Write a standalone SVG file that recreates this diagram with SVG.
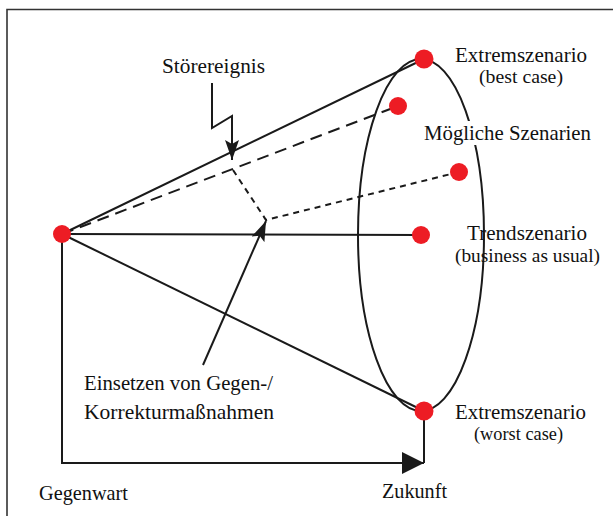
<svg xmlns="http://www.w3.org/2000/svg" width="613" height="516" viewBox="0 0 613 516">
<style>
.ln{stroke:#1a1a1a;stroke-width:2;fill:none}
.ld{stroke:#1a1a1a;stroke-width:2;fill:none;stroke-dasharray:12 7}
.sd{stroke:#1a1a1a;stroke-width:2;fill:none;stroke-dasharray:6 5}
.dot{fill:#ed1c24}
.t{font-family:"Liberation Serif","Times New Roman",serif;font-size:21px;fill:#111}
.s{font-family:"Liberation Serif","Times New Roman",serif;font-size:18.5px;fill:#111}
</style>
<defs>
<marker id="ah" markerUnits="userSpaceOnUse" markerWidth="20" markerHeight="14" refX="20" refY="7" orient="auto">
<path d="M0,0 L20,7 L0,14 L4,7 z" fill="#1a1a1a"/>
</marker>
<marker id="ahb" markerUnits="userSpaceOnUse" markerWidth="22" markerHeight="22" refX="22" refY="11" orient="auto">
<path d="M0,0 L22,11 L0,22 z" fill="#1a1a1a"/>
</marker>
</defs>
<rect width="613" height="516" fill="#fff"/>
<path d="M7,516 V9.5 H613" fill="none" stroke="#333" stroke-width="1.6"/>
<g id="connectors">
<ellipse cx="421" cy="235" rx="63" ry="176" class="ln"/>
<line x1="62" y1="234" x2="424" y2="59" class="ln"/>
<line x1="62" y1="234" x2="424" y2="411" class="ln"/>
<line x1="62" y1="234" x2="421" y2="235" class="ln"/>
<line x1="62" y1="234" x2="398" y2="106" class="ld"/>
<polyline points="233,170 266,220 459,172" class="sd"/>
<line x1="203" y1="365" x2="266" y2="221" class="ln" marker-end="url(#ah)"/>
<polyline points="212,83 212,128 232,116 232,160" class="ln" marker-end="url(#ah)"/>
<polyline points="62,234 62,463 424,463" class="ln" marker-end="url(#ahb)"/>
<line x1="424" y1="411" x2="424" y2="463" class="ln"/>
</g>
<g id="gegenwart"><circle cx="62" cy="234" r="9" class="dot"/><text x="39" y="500" class="t" textLength="89" lengthAdjust="spacingAndGlyphs">Gegenwart</text></g>
<g id="best-case"><circle cx="424" cy="59" r="9.5" class="dot"/><text x="455" y="62" class="t" textLength="132" lengthAdjust="spacingAndGlyphs">Extremszenario</text><text x="479" y="83" class="s" textLength="84" lengthAdjust="spacingAndGlyphs">(best case)</text></g>
<g id="szenario-2"><circle cx="398" cy="106" r="9" class="dot"/></g>
<g id="moegliche"><rect x="420" y="121" width="174" height="24" fill="#fff"/><text x="424" y="140" class="t" textLength="167" lengthAdjust="spacingAndGlyphs">Mögliche Szenarien</text></g>
<g id="szenario-3"><circle cx="459" cy="172" r="9" class="dot"/></g>
<g id="trend"><circle cx="421" cy="235" r="9" class="dot"/><text x="467" y="240" class="t" textLength="120" lengthAdjust="spacingAndGlyphs">Trendszenario</text><text x="455" y="262" class="s" textLength="145" lengthAdjust="spacingAndGlyphs">(business as usual)</text></g>
<g id="worst-case"><circle cx="424" cy="411" r="9.5" class="dot"/><text x="455" y="419" class="t" textLength="131" lengthAdjust="spacingAndGlyphs">Extremszenario</text><text x="474" y="440" class="s" textLength="89" lengthAdjust="spacingAndGlyphs">(worst case)</text></g>
<g id="zukunft"><text x="382" y="498" class="t" textLength="65" lengthAdjust="spacingAndGlyphs">Zukunft</text></g>
<g id="stoerereignis"><text x="162" y="73" class="t" textLength="103" lengthAdjust="spacingAndGlyphs">Störereignis</text></g>
<g id="gegenmassnahmen"><text x="84" y="390" class="t" textLength="189" lengthAdjust="spacingAndGlyphs">Einsetzen von Gegen-/</text><text x="84" y="419" class="t" textLength="190" lengthAdjust="spacingAndGlyphs">Korrekturmaßnahmen</text></g>
</svg>
